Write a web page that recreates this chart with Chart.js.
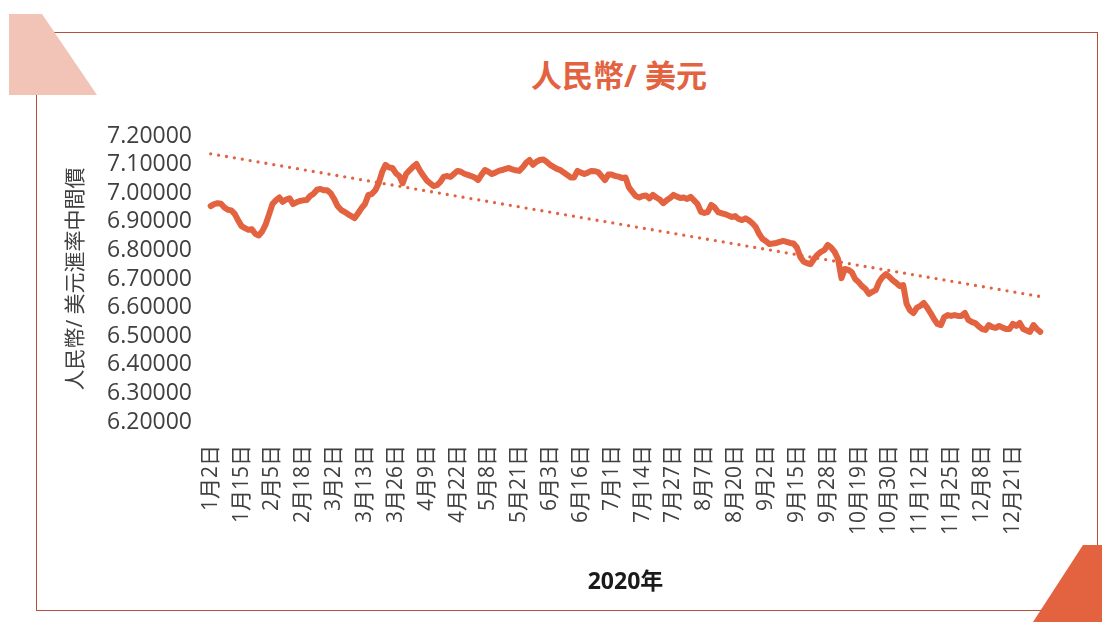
<!DOCTYPE html>
<html>
<head>
<meta charset="utf-8">
<script src="https://cdn.jsdelivr.net/npm/chart.js@4.4.1/dist/chart.umd.min.js"></script>
<style>
  body { margin: 0; background: #ffffff; }
  #wrap { position: relative; width: 1102px; height: 622px; overflow: hidden; }
  #frame { position: absolute; left: 36px; top: 32px; width: 1062px; height: 579px; box-sizing: border-box; border: 1px solid #b4513c; }
  #corner-tl { position: absolute; left: 9px; top: 14px; width: 88px; height: 81px; background: #f2c3b7; clip-path: polygon(0 0, 33px 0, 88px 81px, 0 81px); }
  #corner-br { position: absolute; left: 1033px; top: 545px; width: 69px; height: 77px; background: #e3623f; clip-path: polygon(50px 0, 69px 0, 69px 77px, 0 77px); }
  #chart-title { position: absolute; left: 469px; top: 59px; width: 300px; text-align: center; font: bold 31px 'Open Sans', 'Noto Sans CJK TC', sans-serif; line-height: 32px; color: #e3623f; }
  #mychart { position: absolute; left: 0; top: 0; }
</style>
</head>
<body>
<div id="wrap">
  <div id="frame"></div>
  <div id="corner-tl"></div>
  <div id="corner-br"></div>
  <div id="chart-title">人民幣/ 美元</div>
  <canvas id="mychart" width="1102" height="622"></canvas>
</div>
<script>
// trading days of 2020 (central parity fixing dates)
const janDays = [2, 3, 6, 7, 8, 9, 10, 13, 14, 15, 16, 17, 20, 21, 22, 23];
const febDays = [3, 4, 5, 6, 7, 10, 11, 12, 13, 14, 17, 18, 19, 20, 21, 24, 25, 26, 27, 28];
const marDays = [2, 3, 4, 5, 6, 9, 10, 11, 12, 13, 16, 17, 18, 19, 20, 23, 24, 25, 26, 27, 30, 31];
const aprDays = [1, 2, 3, 7, 8, 9, 10, 13, 14, 15, 16, 17, 20, 21, 22, 23, 24, 27, 28, 29, 30];
const mayDays = [6, 7, 8, 11, 12, 13, 14, 15, 18, 19, 20, 21, 22, 25, 26, 27, 28, 29];
const junDays = [1, 2, 3, 4, 5, 8, 9, 10, 11, 12, 15, 16, 17, 18, 19, 22, 23, 24, 29, 30];
const julDays = [1, 2, 3, 6, 7, 8, 9, 10, 13, 14, 15, 16, 17, 20, 21, 22, 23, 24, 27, 28, 29, 30, 31];
const augDays = [3, 4, 5, 6, 7, 10, 11, 12, 13, 14, 17, 18, 19, 20, 21, 24, 25, 26, 27, 28, 31];
const sepDays = [1, 2, 3, 4, 7, 8, 9, 10, 11, 14, 15, 16, 17, 18, 21, 22, 23, 24, 25, 28, 29, 30];
const octDays = [9, 12, 13, 14, 15, 16, 19, 20, 21, 22, 23, 26, 27, 28, 29, 30];
const novDays = [2, 3, 4, 5, 6, 9, 10, 11, 12, 13, 16, 17, 18, 19, 20, 23, 24, 25, 26, 27, 30];
const decDays = [1, 2, 3, 4, 7, 8, 9, 10, 11, 14, 15, 16, 17, 18, 21, 22, 23, 24, 25, 28, 29, 30, 31];

// USD/CNY central parity
const janRates = [6.955, 6.962, 6.965, 6.963, 6.950, 6.942, 6.940, 6.928, 6.905, 6.885, 6.878, 6.872, 6.874, 6.858, 6.852, 6.866];
const febRates = [6.890, 6.925, 6.962, 6.975, 6.985, 6.970, 6.978, 6.982, 6.962, 6.968, 6.973, 6.975, 6.976, 6.990, 6.998, 7.012, 7.015, 7.010, 7.010, 7.000];
const marRates = [6.980, 6.955, 6.942, 6.935, 6.927, 6.920, 6.913, 6.930, 6.948, 6.962, 6.994, 6.997, 7.010, 7.035, 7.074, 7.099, 7.090, 7.088, 7.070, 7.060, 7.035, 7.067];
const aprRates = [7.080, 7.092, 7.102, 7.080, 7.062, 7.045, 7.035, 7.025, 7.028, 7.040, 7.058, 7.060, 7.057, 7.068, 7.078, 7.075, 7.068, 7.064, 7.060, 7.055, 7.046];
const mayRates = [7.065, 7.081, 7.075, 7.067, 7.072, 7.078, 7.081, 7.085, 7.088, 7.083, 7.080, 7.078, 7.090, 7.106, 7.116, 7.099, 7.110, 7.116];
const junRates = [7.118, 7.110, 7.099, 7.092, 7.085, 7.081, 7.072, 7.064, 7.055, 7.055, 7.078, 7.072, 7.067, 7.072, 7.078, 7.077, 7.074, 7.060, 7.046, 7.065];
const julRates = [7.065, 7.060, 7.058, 7.053, 7.055, 7.020, 7.005, 6.990, 6.985, 6.990, 6.992, 6.982, 6.994, 6.985, 6.978, 6.965, 6.975, 6.983, 6.994, 6.988, 6.983, 6.985, 6.980];
const augRates = [6.987, 6.975, 6.962, 6.935, 6.931, 6.934, 6.959, 6.950, 6.934, 6.930, 6.927, 6.922, 6.917, 6.920, 6.910, 6.906, 6.912, 6.905, 6.895, 6.882, 6.857];
const sepRates = [6.840, 6.832, 6.822, 6.824, 6.826, 6.830, 6.833, 6.830, 6.826, 6.824, 6.810, 6.777, 6.760, 6.755, 6.752, 6.770, 6.785, 6.795, 6.801, 6.819, 6.810, 6.795];
const octRates = [6.770, 6.703, 6.735, 6.732, 6.724, 6.700, 6.689, 6.675, 6.665, 6.648, 6.655, 6.661, 6.690, 6.707, 6.717, 6.707];
const novRates = [6.695, 6.686, 6.675, 6.679, 6.613, 6.590, 6.581, 6.600, 6.606, 6.616, 6.600, 6.581, 6.560, 6.543, 6.539, 6.567, 6.574, 6.571, 6.574, 6.571, 6.571];
const decRates = [6.581, 6.557, 6.550, 6.546, 6.535, 6.525, 6.522, 6.539, 6.532, 6.529, 6.536, 6.530, 6.525, 6.525, 6.543, 6.536, 6.546, 6.525, 6.520, 6.515, 6.539, 6.525, 6.515];

const yTicks = [6.2, 6.3, 6.4, 6.5, 6.6, 6.7, 6.8, 6.9, 7.0, 7.1, 7.2];
const labelEvery = 9;

const lineColor = "#e3623f";
const textColor = "#404040";
const fontFamily = "'Open Sans', 'Noto Sans CJK TC', sans-serif";

function buildLabels() {
  let monthDays = [janDays, febDays, marDays, aprDays, mayDays, junDays, julDays, augDays, sepDays, octDays, novDays, decDays];
  let labels = [];
  monthDays.forEach((days, m) => {
    for (let d of days) {
      labels.push(`${m + 1}月${d}日`);
    }
  });
  return labels;
}

function buildRates() {
  return [].concat(janRates, febRates, marRates, aprRates, mayRates, junRates, julRates, augRates, sepRates, octRates, novRates, decRates);
}

// linear trend line, like the spreadsheet's trendline
function linearTrend(values) {
  let n = values.length;
  let sx = 0, sy = 0, sxx = 0, sxy = 0;
  values.forEach((v, i) => {
    sx += i; sy += v; sxx += i * i; sxy += i * v;
  });
  let slope = (n * sxy - sx * sy) / (n * sxx - sx * sx);
  let intercept = (sy - slope * sx) / n;
  return values.map((v, i) => intercept + slope * i);
}

const labels = buildLabels();
const rates = buildRates();
const trend = linearTrend(rates);

let ctx = document.getElementById("mychart").getContext("2d");
let myChart = new Chart(ctx, {
  type: "line",
  data: {
    labels: labels,
    datasets: [
      {
        label: "趨勢線",
        data: trend,
        borderColor: lineColor,
        borderWidth: 3.3,
        borderDash: [0, 8],
        borderCapStyle: "round",
        pointRadius: 0,
        fill: false
      },
      {
        label: "人民幣/ 美元",
        data: rates,
        borderColor: lineColor,
        borderWidth: 6,
        borderJoinStyle: "round",
        borderCapStyle: "round",
        pointRadius: 0,
        tension: 0,
        fill: false
      }
    ]
  },
  options: {
    responsive: false,
    animation: false,
    layout: { padding: { left: 58, right: 60, top: 136, bottom: 20 } },
    plugins: {
      legend: { display: false },
      tooltip: { enabled: false }
    },
    scales: {
      x: {
        offset: true,
        grid: { display: false, drawTicks: false },
        border: { display: false },
        ticks: {
          autoSkip: false,
          minRotation: 90,
          maxRotation: 90,
          padding: 23,
          color: textColor,
          font: { family: fontFamily, size: 21 },
          callback: function(value, index) {
            return index % labelEvery === 0 ? labels[index] : "";
          }
        },
        title: {
          display: true,
          text: "2020年",
          color: "#1a1a1a",
          font: { family: fontFamily, size: 23, weight: "bold" },
          padding: { top: 0, bottom: 6 }
        },
        afterFit: function(scale) { scale.height = 180; }
      },
      y: {
        min: 6.2,
        max: 7.2,
        grid: { display: false, drawTicks: false },
        border: { display: false },
        afterBuildTicks: function(scale) {
          scale.ticks = yTicks.map(v => ({ value: v }));
        },
        ticks: {
          autoSkip: false,
          padding: 17,
          color: textColor,
          font: { family: fontFamily, size: 23 },
          callback: function(value) { return Number(value).toFixed(5); }
        },
        title: {
          display: true,
          text: "人民幣/ 美元滙率中間價",
          color: textColor,
          font: { family: fontFamily, size: 21 },
          padding: { top: 5, bottom: 0 }
        },
        afterFit: function(scale) { scale.width = 151; }
      }
    }
  }
});
</script>
</body>
</html>
